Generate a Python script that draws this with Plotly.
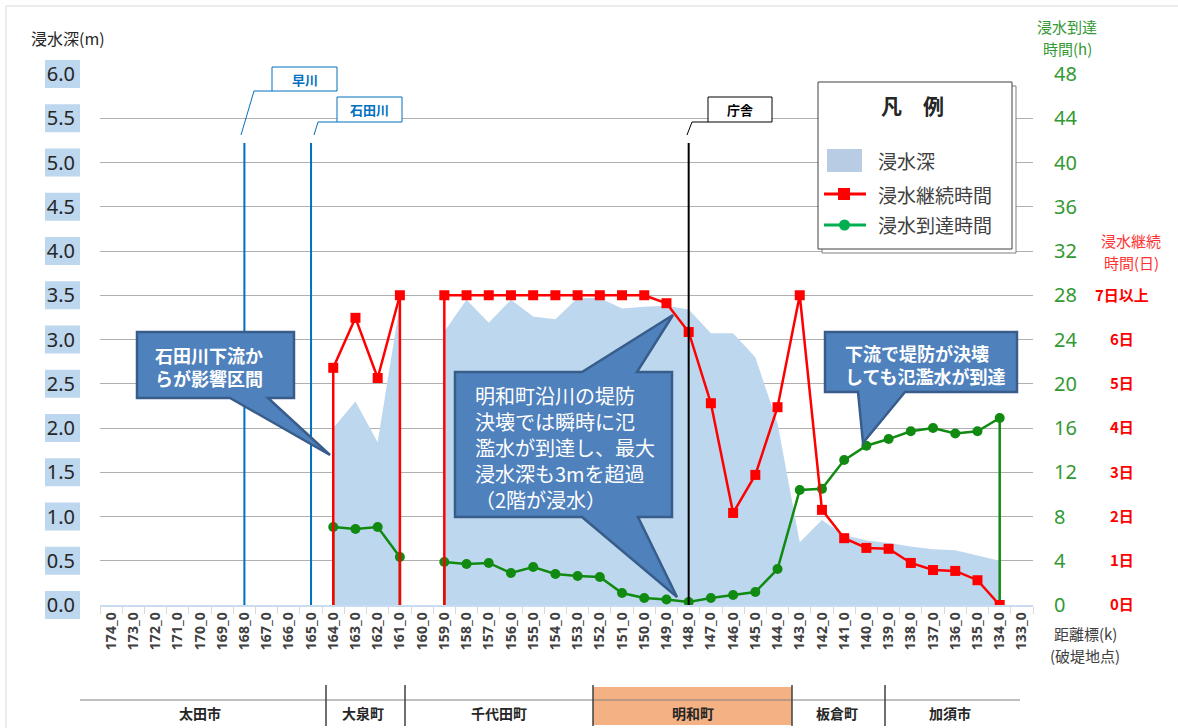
import plotly.graph_objects as go

# ---------------- data ----------------
distance_labels = ["174_0", "173_0", "172_0", "171_0", "170_0", "169_0", "168_0",
                   "167_0", "166_0", "165_0", "164_0", "163_0", "162_0", "161_0",
                   "160_0", "159_0", "158_0", "157_0", "156_0", "155_0", "154_0",
                   "153_0", "152_0", "151_0", "150_0", "149_0", "148_0", "147_0",
                   "146_0", "145_0", "144_0", "143_0", "142_0", "141_0", "140_0",
                   "139_0", "138_0", "137_0", "136_0", "135_0", "134_0", "133_0"]

# 浸水深 (m)
depth_m = [None, None, None, None, None, None, None, None, None, None,
           2.00, 2.30, 1.84, 3.40,
           None,
           3.09, 3.45, 3.19, 3.45, 3.26, 3.23, 3.47, 3.47, 3.35, 3.37, 3.38, 3.34,
           3.07, 3.07, 2.80, 2.05, 0.71, 0.96, 0.79, 0.73, 0.70, 0.66, 0.63, 0.62,
           0.56, 0.50,
           None]

# 浸水継続時間 (日)
duration_days = [None, None, None, None, None, None, None, None, None, None,
                 5.36, 6.49, 5.13, 7.0,
                 None,
                 7.0, 7.0, 7.0, 7.0, 7.0, 7.0, 7.0, 7.0, 7.0, 7.0, 6.82, 6.17,
                 4.56, 2.08, 2.94, 4.47, 7.0, 2.15, 1.51, 1.29, 1.27, 0.95, 0.79, 0.77,
                 0.56, 0.0,
                 None]

# 浸水到達時間 (h)
arrival_h = [None, None, None, None, None, None, None, None, None, None,
             7.05, 6.87, 7.05, 4.34,
             None,
             3.89, 3.71, 3.80, 2.89, 3.44, 2.80, 2.62, 2.53, 1.08, 0.63, 0.50, 0.27,
             0.63, 0.90, 1.17, 3.25, 10.4, 10.5, 13.1, 14.4, 15.0, 15.7, 16.0, 15.5,
             15.7, 16.9,
             None]

depth_ticks = [0.0, 0.5, 1.0, 1.5, 2.0, 2.5, 3.0, 3.5, 4.0, 4.5, 5.0, 5.5, 6.0]
hour_ticks = [0, 4, 8, 12, 16, 20, 24, 28, 32, 36, 40, 44, 48]
day_tick_vals = [0, 1, 2, 3, 4, 5, 6, 7]
day_tick_labels = ["0日", "1日", "2日", "3日", "4日", "5日", "6日", "7日以上"]

landmark_names = ["早川", "石田川", "庁舎"]
landmark_km = ["168_0", "165_0", "148_0"]
landmark_colors = ["#0070c0", "#0070c0", "#000000"]

municipalities = ["太田市", "大泉町", "千代田町", "明和町", "板倉町", "加須市"]
highlight_municipality = "明和町"

callout_texts = ["石田川下流か<br>らが影響区間",
                 "明和町沿川の堤防<br>決壊では瞬時に氾<br>濫水が到達し、最大<br>浸水深も3mを超過<br>（2階が浸水）",
                 "下流で堤防が決壊<br>しても氾濫水が到達"]

name_depth = "浸水深"
name_duration = "浸水継続時間"
name_arrival = "浸水到達時間"

# ---------------- layout helpers ----------------
W, H = 1178, 728
L, R, T, B = 100, 20, 74, 123
PW = W - L - R
PH = H - T - B
FONT = "Noto Sans CJK JP, Noto Sans, sans-serif"


def px(x):
    return (x - L) / PW


def py(y):
    return (H - B - y) / PH


def path(points):
    return "M " + " L ".join(f"{px(x):.5f},{py(y):.5f}" for x, y in points) + " Z"


def polyline(points):
    return "M " + " L ".join(f"{px(x):.5f},{py(y):.5f}" for x, y in points)


def runs(vals):
    out, cur = [], []
    for i, v in enumerate(vals):
        if v is None:
            if cur:
                out.append(cur)
            cur = []
        else:
            cur.append(i)
    if cur:
        out.append(cur)
    return out


def edge_drops(vals):
    xs, ys = [], []
    for r in runs(vals):
        a, b = r[0], r[-1]
        xs += [distance_labels[a], distance_labels[a], None, distance_labels[b], distance_labels[b], None]
        ys += [0, vals[a], None, vals[b], 0, None]
    return xs, ys


def label(x, y, text, size, color, xanchor="center", weight="normal", align="center"):
    return dict(xref="paper", yref="paper", x=px(x), y=py(y), text=text, showarrow=False,
                xanchor=xanchor, yanchor="middle", align=align,
                font=dict(size=size, color=color, family=FONT, weight=weight))


RED = "#ff0000"
GREEN = "#108a10"
AREA = "#bdd7ee"

fig = go.Figure()

for k, r in enumerate(runs(depth_m)):
    fig.add_trace(go.Scatter(
        x=[distance_labels[i] for i in r], y=[depth_m[i] for i in r], name=name_depth,
        mode="lines", line=dict(width=0, color=AREA), fill="tozeroy", fillcolor=AREA,
        yaxis="y", showlegend=False, legendgroup="depth"))

rx, ry = edge_drops(duration_days)
fig.add_trace(go.Scatter(x=rx, y=ry, mode="lines", line=dict(color=RED, width=2.5),
                         yaxis="y3", showlegend=False, hoverinfo="skip"))
gx, gy = edge_drops(arrival_h)
fig.add_trace(go.Scatter(x=gx, y=gy, mode="lines", line=dict(color=GREEN, width=2.5),
                         yaxis="y2", showlegend=False, hoverinfo="skip"))

fig.add_trace(go.Scatter(
    x=distance_labels, y=duration_days, name=name_duration, mode="lines+markers",
    line=dict(color=RED, width=2.5), marker=dict(symbol="square", size=10, color=RED),
    connectgaps=False, yaxis="y3", showlegend=False))

fig.add_trace(go.Scatter(
    x=distance_labels, y=arrival_h, name=name_arrival, mode="lines+markers",
    line=dict(color=GREEN, width=2.5), marker=dict(symbol="circle", size=10, color=GREEN),
    connectgaps=False, yaxis="y2", showlegend=False))

shapes = []
annotations = []

# figure border (top/left)
shapes.append(dict(type="line", xref="paper", yref="paper", x0=px(6), y0=py(6), x1=px(W + 5), y1=py(6),
                   line=dict(color="#d9d9d9", width=1)))
shapes.append(dict(type="line", xref="paper", yref="paper", x0=px(6), y0=py(6), x1=px(6), y1=py(H + 5),
                   line=dict(color="#d9d9d9", width=1)))

# highlighted left tick labels
for v in depth_ticks:
    yc = v / 6.0
    shapes.append(dict(type="rect", xref="paper", yref="paper", layer="below",
                       x0=px(45), x1=px(80), y0=yc - 14 / PH, y1=yc + 14 / PH,
                       fillcolor="#bdd7ee", line=dict(width=0)))

# landmark vertical lines with labels
label_boxes = [(272, 67, 337, 91), (337, 97, 402, 122), (708, 97, 772, 122)]
leaders = [[(272, 91), (254, 91), (241, 135)],
           [(337, 122), (318, 122), (314, 135)],
           [(708, 122), (692, 122), (687, 135)]]
for name, km, col, box, lead in zip(landmark_names, landmark_km, landmark_colors, label_boxes, leaders):
    shapes.append(dict(type="line", xref="x", yref="paper", x0=km, x1=km, y0=0, y1=py(143),
                       line=dict(color=col, width=2), layer="above"))
    shapes.append(dict(type="path", xref="paper", yref="paper", path=polyline(lead),
                       line=dict(color=col, width=1)))
    shapes.append(dict(type="rect", xref="paper", yref="paper",
                       x0=px(box[0]), x1=px(box[2]), y0=py(box[3]), y1=py(box[1]),
                       fillcolor="white", line=dict(color=col, width=1)))
    annotations.append(label((box[0] + box[2]) / 2, (box[1] + box[3]) / 2, name, 13, col, weight="bold"))

# callouts
CALL_FILL = "#4f81bd"
CALL_LINE = "#385d8a"
callout_paths = [
    [(137, 332), (294, 332), (294, 398), (268, 398), (330, 455), (230, 398), (137, 398)],
    [(455, 372), (582, 372), (673, 315), (637, 372), (672, 372), (672, 517), (638, 517),
     (677, 597), (582, 517), (455, 517)],
    [(825, 332), (1017, 332), (1017, 392), (905, 392), (863, 443), (858, 392), (825, 392)],
]
callout_text_pos = [(153, 366, 18, "bold"), (473, 447, 20, "normal"), (843, 365, 18, "bold")]
for pts, txt, (tx, ty, fs, fw) in zip(callout_paths, callout_texts, callout_text_pos):
    shapes.append(dict(type="path", xref="paper", yref="paper", path=path(pts),
                       fillcolor=CALL_FILL, line=dict(color=CALL_LINE, width=2.5), layer="above"))
    annotations.append(label(tx, ty, txt, fs, "white", xanchor="left", weight=fw, align="left"))

# legend (凡例)
shapes.append(dict(type="rect", xref="paper", yref="paper", x0=px(822), x1=px(1016), y0=py(253), y1=py(86),
                   fillcolor="white", line=dict(color="#808080", width=1), layer="above"))
shapes.append(dict(type="rect", xref="paper", yref="paper", x0=px(818), x1=px(1012), y0=py(249), y1=py(82),
                   fillcolor="white", line=dict(color="#404040", width=1), layer="above"))
shapes.append(dict(type="rect", xref="paper", yref="paper", x0=px(827), x1=px(862), y0=py(172), y1=py(149),
                   fillcolor="#b8cce4", line=dict(width=0), layer="above"))
shapes.append(dict(type="line", xref="paper", yref="paper", x0=px(824), x1=px(866), y0=py(194), y1=py(194),
                   line=dict(color=RED, width=3), layer="above"))
shapes.append(dict(type="rect", xref="paper", yref="paper", x0=px(838), x1=px(850), y0=py(200), y1=py(188),
                   fillcolor=RED, line=dict(width=0), layer="above"))
shapes.append(dict(type="line", xref="paper", yref="paper", x0=px(824), x1=px(866), y0=py(225), y1=py(225),
                   line=dict(color="#00b050", width=3), layer="above"))
shapes.append(dict(type="circle", xref="paper", yref="paper", x0=px(839), x1=px(850), y0=py(230.5), y1=py(219.5),
                   fillcolor="#00b050", line=dict(width=0), layer="above"))
annotations.append(label(912, 105, "凡　例", 21, "#262626", weight="bold"))
for nm, yy in zip([name_depth, name_duration, name_arrival], [160, 194, 225]):
    annotations.append(label(876, yy, nm, 19, "#404040", xanchor="left"))

# bottom municipality band
hl_idx = municipalities.index(highlight_municipality)
dividers = [326, 405, 593, 792, 885]
centers = [200, 363, 499, 693, 837, 950]
shapes.append(dict(type="rect", xref="paper", yref="paper", x0=px(dividers[hl_idx - 1]), x1=px(dividers[hl_idx]),
                   y0=py(725), y1=py(687), fillcolor="#f4b183", line=dict(width=0)))
shapes.append(dict(type="line", xref="paper", yref="paper", x0=px(80), x1=px(1020), y0=py(700), y1=py(700),
                   line=dict(color="#808080", width=1)))
for d in dividers:
    shapes.append(dict(type="line", xref="paper", yref="paper", x0=px(d), x1=px(d), y0=py(685), y1=py(726),
                       line=dict(color="#404040", width=1.5)))
for m, c in zip(municipalities, centers):
    annotations.append(label(c, 713, m, 14, "#262626", weight="bold"))

# axis titles (two-line titles as stacked labels)
annotations.append(label(68, 38, "浸水深(m)", 16, "#262626"))
annotations.append(label(1067, 27, "浸水到達", 15, "#339933"))
annotations.append(label(1067, 48.5, "時間(h)", 15, "#339933"))
annotations.append(label(1131, 240, "浸水継続", 15, "#ff3333"))
annotations.append(label(1131, 262.5, "時間(日)", 15, "#ff3333"))
annotations.append(label(1085, 633, "距離標(k)", 15, "#404040"))
annotations.append(label(1085, 656, "(破堤地点)", 15, "#404040"))

day_ticktext = [("\u3000" + t) if len(t) == 2 else t for t in day_tick_labels]

fig.update_layout(
    width=W, height=H,
    margin=dict(l=L, r=R, t=T, b=B),
    paper_bgcolor="white", plot_bgcolor="white",
    font=dict(family=FONT, color="#404040"),
    showlegend=False,
    xaxis=dict(type="category", categoryorder="array", categoryarray=distance_labels,
               range=[-0.5, len(distance_labels) - 0.5], domain=[0, px(1033)],
               tickangle=-90, tickfont=dict(size=14, color="#404040", family="Noto Sans", weight="bold"),
               ticks="outside", ticklen=7, tickcolor="#d9d9d9", tickson="boundaries",
               showline=True, linecolor="#c9dbee", linewidth=1.5, showgrid=False, zeroline=False),
    yaxis=dict(range=[0, 6], tickvals=depth_ticks, tickformat=".1f",
               tickfont=dict(size=20, color="#262626", family="Noto Sans"),
               showgrid=True, gridcolor="#b0b0b0", gridwidth=1, zeroline=False, showline=False,
               ticklabelstandoff=24),
    yaxis2=dict(range=[0, 48], tickvals=hour_ticks, overlaying="y", side="right", anchor="x",
                tickfont=dict(size=20, color="#339933", family="Noto Sans"),
                showgrid=False, zeroline=False, showline=False, ticklabelstandoff=20),
    yaxis3=dict(range=[0, 12], tickvals=day_tick_vals, ticktext=day_ticktext, overlaying="y",
                side="right", anchor="free", position=px(1094),
                tickfont=dict(size=15, color=RED, family=FONT, weight="bold"),
                showgrid=False, zeroline=False, showline=False),
    shapes=shapes,
    annotations=annotations,
)

fig.write_html("out.html", config={"displayModeBar": False},
               post_script="document.body.style.margin='0';document.body.style.overflow='hidden';")
